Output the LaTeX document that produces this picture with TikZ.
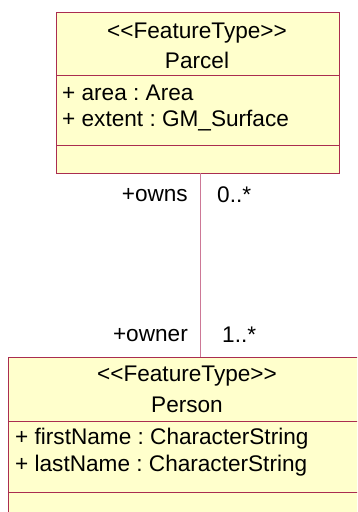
\documentclass[tikz,border=0pt]{standalone}
\usepackage{fontspec}
\setmainfont{Liberation Sans}
\frenchspacing
\definecolor{boxfill}{RGB}{255,255,204}
\definecolor{boxline}{RGB}{170,45,80}
\definecolor{connline}{RGB}{205,120,150}
\begin{document}
\begin{tikzpicture}[x=1pt,y=-1pt,
  classbox/.style={draw=boxline,fill=boxfill,line width=1.3pt,inner sep=0pt,anchor=north west},
  sepline/.style={draw=boxline,line width=1pt},
  ctext/.style={font=\fontsize{22.6}{25}\selectfont,inner sep=0pt,anchor=center},
  atext/.style={font=\fontsize{22.6}{25}\selectfont,inner sep=0pt,anchor=west},
  rtext/.style={font=\fontsize{22.6}{25}\selectfont,inner sep=0pt},
  conn/.style={draw=connline,line width=1pt}]
\useasboundingbox (0,0) rectangle (357,512);
\begin{scope}
\clip (0,0) rectangle (357,512);
% Parcel
\node[classbox,minimum width=283pt,minimum height=161pt] (parcel) at (56,12) {};
\draw[sepline] (56,75) -- (339,75);
\draw[sepline] (56,145) -- (339,145);
\node[ctext] (p1) at (197,33) {<{}<FeatureType>{}>};
\node[ctext] (p2) at (197,60) {Parcel};
\node[atext] (p3) at (62,93) {+ area : Area};
\node[atext] (p4) at (62,121) {+ extent : GM\_Surface};
% Person
\node[classbox,minimum width=358pt,minimum height=180pt] (person) at (8,357) {};
\draw[sepline] (8,421) -- (366,421);
\draw[sepline] (8,492) -- (366,492);
\node[ctext] (q1) at (187,376) {<{}<FeatureType>{}>};
\node[ctext] (q2) at (187,405) {Person};
\node[atext] (q3) at (15,439) {+ firstName : CharacterString};
\node[atext] (q4) at (15,466) {+ lastName : CharacterString};
\end{scope}
% association
\coordinate (a) at (200,173);
\draw[conn] (a) -- (a |- person.north);
\node[rtext,anchor=east] (owns) at (188,195) {+owns};
\node[rtext,anchor=west] (m1) at (217,195) {0..*};
\node[rtext,anchor=east] (owner) at (188,335) {+owner};
\node[rtext,anchor=west] (m2) at (222,335) {1..*};
\end{tikzpicture}
\end{document}
